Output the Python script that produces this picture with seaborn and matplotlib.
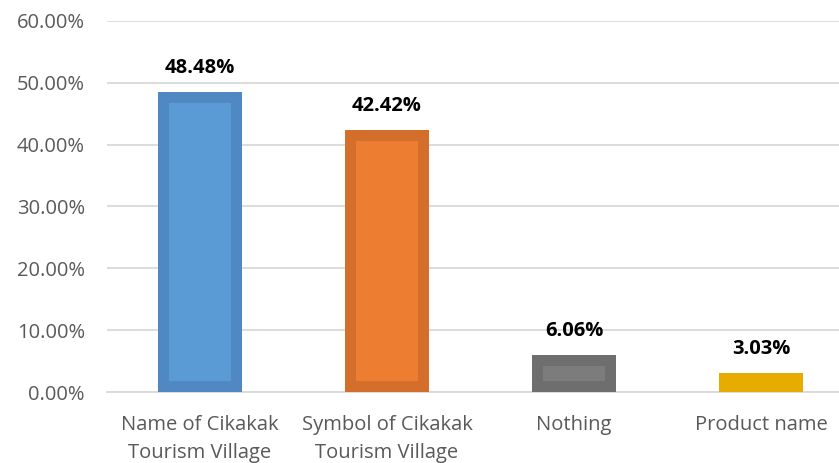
import matplotlib
matplotlib.use("Agg")
import matplotlib.pyplot as plt
import seaborn as sns
import pandas as pd
from matplotlib.ticker import FuncFormatter, MultipleLocator

categories = ["Name of Cikakak\nTourism Village", "Symbol of Cikakak\nTourism Village", "Nothing", "Product name"]
values = [48.48, 42.42, 6.06, 3.03]
labels = ["48.48%", "42.42%", "6.06%", "3.03%"]
face_colors = ["#5B9BD5", "#ED7D31", "#7C7C7C", "#E6AC00"]
edge_colors = ["#4F88C2", "#D46E2B", "#6E6E6E", "#E6AC00"]

sns.set_theme(style="white")
plt.rcParams['font.family'] = ['Open Sans', 'DejaVu Sans']

df = pd.DataFrame({"cat": categories, "val": values})

fig = plt.figure(figsize=(8.39, 4.63), dpi=100)
W, H = 839, 463
ax = fig.add_axes([106.5 / W, (H - 392) / H, 748 / W, (392 - 21) / H])

sns.barplot(data=df, x="cat", y="val", hue="cat", palette=face_colors, legend=False,
            width=0.45, ax=ax, saturation=1)

lw_px = 22
for p, ec in zip(ax.patches, edge_colors):
    p.set_edgecolor(ec)
    p.set_linewidth(lw_px * 72 / 100)
    p.set_clip_path(p)
    p.set_zorder(3)

ax.set_ylim(0, 60)
ax.set_xlim(-0.5, 3.5)
ax.yaxis.set_major_locator(MultipleLocator(10))
ax.yaxis.set_major_formatter(FuncFormatter(lambda v, _: f"{v:.2f}%"))
ax.grid(axis="y", color="#D9D9D9", linewidth=1.3, zorder=0)
ax.set_axisbelow(True)
for s in ["top", "right", "left"]:
    ax.spines[s].set_visible(False)
ax.spines["bottom"].set_color("#D9D9D9")
ax.spines["bottom"].set_linewidth(1.3)
ax.set_xlabel("")
ax.set_ylabel("")
ax.tick_params(axis="y", length=0, pad=15.5, labelsize=14.5, labelcolor="#595959")
ax.tick_params(axis="x", length=0, pad=16.5, labelsize=14.5, labelcolor="#595959")
for t in ax.get_xticklabels():
    t.set_linespacing(1.55)

for i, (v, lab) in enumerate(zip(values, labels)):
    ax.annotate(lab, (i, v), xytext=(0, 10), textcoords="offset points",
                ha="center", va="bottom", fontsize=14.5, fontweight="bold", color="black")

fig.savefig("out.png", dpi=100)
